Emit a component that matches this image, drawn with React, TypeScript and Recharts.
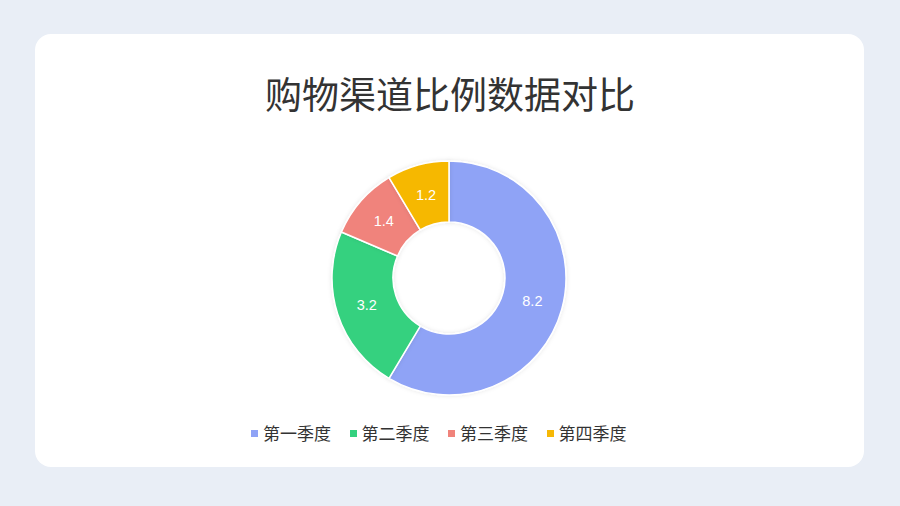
import React from "react";
import { Cell, Legend, Pie, PieChart } from "recharts";

const quarters = ["第一季度", "第二季度", "第三季度", "第四季度"];
const shares = [8.2, 3.2, 1.4, 1.2];
const colors = ["#8fa3f6", "#34d17f", "#f0837b", "#f6b806"];

const title = "购物渠道比例数据对比";
const cjkFont = '"Noto Sans CJK SC", "Noto Sans", sans-serif';

const data = quarters.map((name, i) => ({ name, value: shares[i] }));

const RAD = Math.PI / 180;

function SliceLabel(props: any) {
  const { cx, cy, midAngle, innerRadius, outerRadius, value } = props;
  const r = (innerRadius + outerRadius) / 2;
  const x = cx + r * Math.cos(-midAngle * RAD);
  const y = cy + r * Math.sin(-midAngle * RAD);
  return (
    <text
      x={x}
      y={y}
      fill="#ffffff"
      fontSize={14.5}
      fontFamily='"Liberation Sans", Arial, sans-serif'
      textAnchor="middle"
      dominantBaseline="central"
    >
      {value}
    </text>
  );
}

function QuarterLegend() {
  return (
    <div style={{ display: "flex", fontFamily: cjkFont, paddingLeft: 251 }}>
      {quarters.map((q, i) => (
        <div key={q} style={{ display: "flex", alignItems: "center", width: 98.5 }}>
          <span style={{ width: 7, height: 7, background: colors[i], display: "inline-block", marginRight: 5 }} />
          <span style={{ fontSize: 17, color: "#333333", lineHeight: "20px", whiteSpace: "nowrap" }}>{q}</span>
        </div>
      ))}
    </div>
  );
}

export default function App() {
  return (
    <div style={{ position: "absolute", left: 0, top: 0, width: 900, height: 506, background: "#e9eef6", overflow: "hidden" }}>
      <div
        style={{
          position: "absolute",
          left: 35,
          top: 34,
          width: 829,
          height: 433,
          background: "#ffffff",
          borderRadius: 16,
        }}
      />
      <div
        style={{
          position: "absolute",
          left: 0,
          top: 69,
          width: 900,
          textAlign: "center",
          fontFamily: cjkFont,
          fontSize: 37,
          lineHeight: "48px",
          color: "#333333",
        }}
      >
        {title}
      </div>
      <div style={{ position: "absolute", left: 0, top: 0 }}>
        <PieChart width={900} height={506} margin={{ top: 0, right: 0, bottom: 0, left: 0 }}>
          <defs>
            <filter id="sliceShadow" x="-20%" y="-20%" width="140%" height="140%">
              <feDropShadow dx="0" dy="0" stdDeviation="2" floodColor="#000000" floodOpacity="0.1" />
            </filter>
          </defs>
          <Pie
            data={data}
            dataKey="value"
            nameKey="name"
            cx={449}
            cy={278}
            innerRadius={56}
            outerRadius={117}
            startAngle={90}
            endAngle={-270}
            stroke="#ffffff"
            strokeWidth={1.5}
            label={SliceLabel}
            labelLine={false}
            isAnimationActive={false}
          >
            {data.map((d, i) => (
              <Cell key={d.name} fill={colors[i]} filter="url(#sliceShadow)" />
            ))}
          </Pie>
          <Legend
            content={<QuarterLegend />}
            wrapperStyle={{ position: "absolute", left: 0, top: 423, width: 900 }}
          />
        </PieChart>
      </div>
    </div>
  );
}
